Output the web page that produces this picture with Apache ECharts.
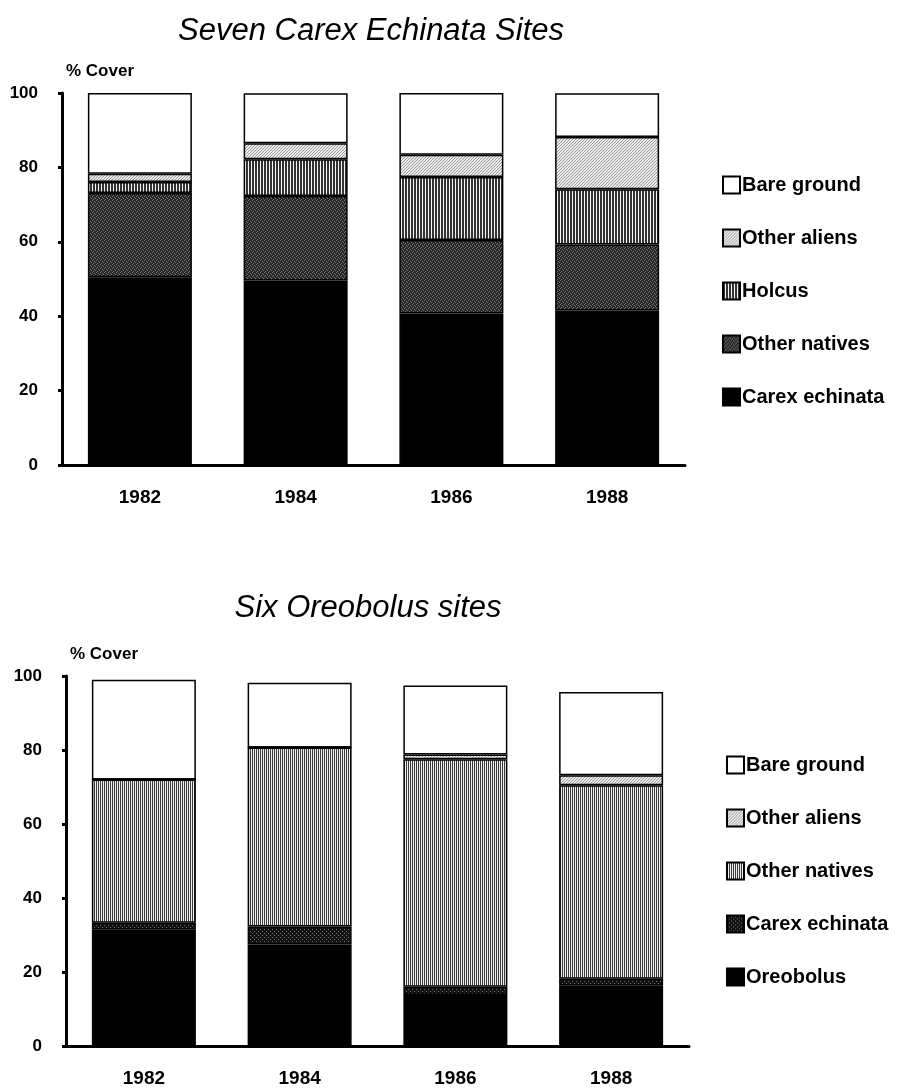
<!DOCTYPE html>
<html>
<head>
<meta charset="utf-8">
<script src="https://cdn.jsdelivr.net/npm/echarts@6/dist/echarts.min.js"></script>
<style>
html,body{margin:0;padding:0;background:#fff;}
#c1{width:907px;height:560px;}
#c2{width:907px;height:532px;}
</style>
</head>
<body>
<div id="c1"></div>
<div id="c2"></div>
<script>
// ---- data ----
var years = ['1982', '1984', '1986', '1988'];
var yTicks = [0, 20, 40, 60, 80, 100];

// Seven Carex Echinata Sites (% cover)
var topCarex   = [50.5, 49.6, 40.7, 41.5];
var topNatives = [22.6, 22.7, 19.8, 17.8];
var topHolcus  = [3.0, 9.9, 16.9, 14.8];
var topAliens  = [2.2, 4.3, 6.0, 14.1];
var topBare    = [21.7, 13.4, 16.6, 11.7];

// Six Oreobolus sites (% cover)
var botOreo    = [31.4, 27.4, 13.8, 16.3];
var botCarex   = [1.9, 4.9, 2.2, 1.9];
var botNatives = [38.7, 48.4, 61.5, 52.3];
var botAliens  = [0, 0, 1.3, 2.7];
var botBare    = [27.0, 17.5, 18.6, 22.5];

// ---- patterns ----
function makePattern(w, h, bg, fg, pts) {
  var c = document.createElement('canvas');
  c.width = w; c.height = h;
  var g = c.getContext('2d');
  g.fillStyle = bg; g.fillRect(0, 0, w, h);
  g.fillStyle = fg;
  pts.forEach(function (p) { g.fillRect(p[0], p[1], 1, 1); });
  return { image: c, repeat: 'repeat' };
}
var stripes = makePattern(3, 1, '#f4f4f4', '#333333', [[0,0],[1,0]]);
var stripesMid = makePattern(2, 1, '#f0f0f0', '#3a3a3a', [[0,0]]);
var dots = makePattern(3, 3, '#ececec', '#9a9a9a', [[0,0],[2,1],[1,2]]);
var speckle = makePattern(4, 4, '#262626', '#7a7a7a', [[0,0],[2,1],[1,3],[3,2]]);
var darkSpeck = makePattern(4, 4, '#111111', '#777777', [[0,1],[2,3]]);

var FONT = "'Liberation Sans', Arial, Helvetica, sans-serif";

function baseOption(titleText, titleLeft, titleTop, gridTop, gridHeight, gridLeft, legendTop, legendLeft, legendNames) {
  return {
    animation: false,
    title: {
      text: titleText,
      left: titleLeft, top: titleTop, textAlign: 'center',
      textStyle: { fontFamily: FONT, fontStyle: 'italic', fontWeight: 'normal', fontSize: 31, color: '#000' }
    },
    legend: {
      orient: 'vertical',
      left: legendLeft, top: legendTop,
      itemWidth: 17, itemHeight: 17, itemGap: 33,
      icon: 'rect',
      selectedMode: false,
      data: legendNames,
      textStyle: { fontFamily: FONT, fontWeight: 'bold', fontSize: 20, color: '#000', padding: [0,0,0,-3] }
    },
    grid: { left: gridLeft, top: gridTop, width: 623, height: gridHeight },
    xAxis: {
      type: 'category',
      data: years,
      axisLine: { lineStyle: { color: '#000', width: 3 } },
      axisTick: { show: false },
      axisLabel: { fontFamily: FONT, fontWeight: 'bold', fontSize: 19, color: '#000', margin: 23 }
    },
    yAxis: {
      type: 'value',
      min: 0, max: 100, interval: 20,
      name: '% Cover',
      nameLocation: 'end',
      nameGap: 22,
      nameTextStyle: { fontFamily: FONT, fontWeight: 'bold', fontSize: 17, color: '#000', align: 'left', verticalAlign: 'middle', padding: [0,0,0,4] },
      axisLine: { show: true, lineStyle: { color: '#000', width: 3 } },
      axisTick: { show: true, length: 4, lineStyle: { color: '#000', width: 3 } },
      splitLine: { show: false },
      axisLabel: { fontFamily: FONT, fontWeight: 'bold', fontSize: 17, color: '#000', margin: 24,
        formatter: function (v) { return yTicks.indexOf(v) >= 0 ? String(v) : ''; } }
    }
  };
}

function bar(name, data, fill) {
  return {
    name: name, type: 'bar', stack: 'total', barWidth: 104, data: data,
    itemStyle: { color: fill, borderColor: '#000', borderWidth: 1.5 }
  };
}

var opt1 = baseOption('Seven Carex Echinata Sites', 366, 11, 93, 372, 62, 170, 717,
  ['Bare ground', 'Other aliens', 'Holcus', 'Other natives', 'Carex echinata']);
opt1.series = [
  bar('Carex echinata', topCarex, '#000000'),
  bar('Other natives', topNatives, speckle),
  bar('Holcus', topHolcus, stripes),
  bar('Other aliens', topAliens, dots),
  bar('Bare ground', topBare, '#ffffff')
];

var opt2 = baseOption('Six Oreobolus sites', 363, 28, 116, 370, 66, 190, 721,
  ['Bare ground', 'Other aliens', 'Other natives', 'Carex echinata', 'Oreobolus']);
opt2.series = [
  bar('Oreobolus', botOreo, '#000000'),
  bar('Carex echinata', botCarex, darkSpeck),
  bar('Other natives', botNatives, stripesMid),
  bar('Other aliens', botAliens, dots),
  bar('Bare ground', botBare, '#ffffff')
];

echarts.init(document.getElementById('c1'), null, { renderer: 'canvas' }).setOption(opt1);
echarts.init(document.getElementById('c2'), null, { renderer: 'canvas' }).setOption(opt2);
</script>
</body>
</html>
